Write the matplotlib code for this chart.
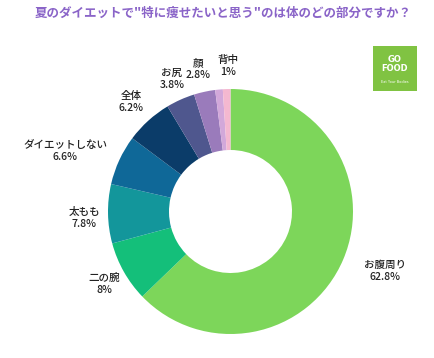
import matplotlib
matplotlib.use("Agg")
import matplotlib.pyplot as plt
from matplotlib.patches import Rectangle

plt.rcParams['font.family'] = ['Noto Sans CJK JP', 'DejaVu Sans']

title = '夏のダイエットで"特に痩せたいと思う"のは体のどの部分ですか？'
labels = ['お腹周り', '二の腕', '太もも', 'ダイエットしない', '全体', 'お尻', '顔', '背中', '']
values = [62.8, 8, 7.8, 6.6, 6.2, 3.8, 2.8, 1, 1]
pct_text = ['62.8%', '8%', '7.8%', '6.6%', '6.2%', '3.8%', '2.8%', '1%', '']
colors = ['#7dd65a', '#14bf7a', '#13969b', '#0f6898', '#0b3c69',
          '#4f578e', '#9a7bbb', '#d2a8da', '#f4b8d0']
# label anchor positions in pixels (x, y from top)
label_pos = [(385, 271), (104, 284), (84, 218), (65, 151), (131, 102),
             (172, 79), (198, 69), (228, 66), None]

W, H = 435, 358
fig = plt.figure(figsize=(W / 100, H / 100), dpi=100)
ax = fig.add_axes([0, 0, 1, 1])

ax.pie(values, colors=colors, startangle=90, counterclock=False,
       center=(230.5, H - 211.5), radius=122.5,
       wedgeprops=dict(width=61, edgecolor='none', linewidth=0))
ax.set_xlim(0, W)
ax.set_ylim(0, H)
ax.set_aspect('auto')
ax.axis('off')

for lab, pct, pos in zip(labels, pct_text, label_pos):
    if pos is None:
        continue
    ax.text(pos[0], H - pos[1], lab + '\n' + pct, ha='center', va='center',
            fontsize=7.6, color='#222222', linespacing=1.35, fontweight='medium')

fig.text(223 / W, 1 - 13 / H, title, ha='center', va='center',
         fontsize=9.0, color='#8a64c8', fontweight='bold')

# logo
ax.add_patch(Rectangle((373, H - 91), 44, 45, facecolor='#80c342', edgecolor='none'))
ax.text(395, H - 64, 'GO\nFOOD', ha='center', va='center', fontsize=6,
        color='white', fontweight='bold', linespacing=0.9, family='DejaVu Sans')
ax.text(395, H - 82, 'Eat Your Bodies', ha='center', va='center', fontsize=2.5,
        color='white', family='DejaVu Sans')

fig.savefig('out.png', dpi=100, facecolor='white')
